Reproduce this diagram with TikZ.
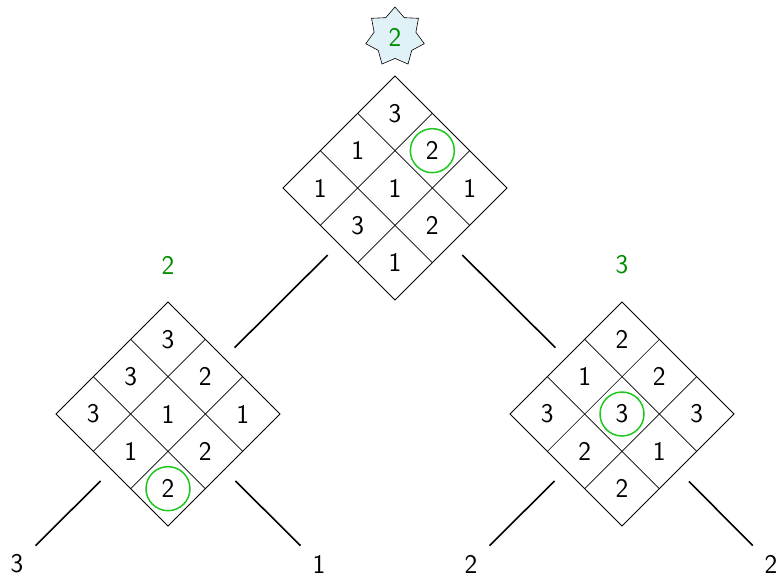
\documentclass[tikz,border=0pt]{standalone}
\usetikzlibrary{shapes.geometric,calc}
\definecolor{lblgreen}{RGB}{0,140,0}
\definecolor{circgreen}{RGB}{30,200,30}
\definecolor{starfill}{RGB}{224,242,248}
\newcommand{\boardgrid}[1]{%
  \foreach \t in {0.33333,0.66667} {
    \draw[gridline] ($(#1.west)!\t!(#1.south)$) -- ($(#1.north)!\t!(#1.east)$);
    \draw[gridline] ($(#1.west)!\t!(#1.north)$) -- ($(#1.south)!\t!(#1.east)$);
  }}
\newcommand{\boardvals}[2]{%
  \foreach \i/\j/\v in {#2} {
    \node[cellnum] (#1-\i\j) at ($(#1)+({(\i-\j)*37.333},{(\i+\j-2)*37.333})$) {\v};
  }}
\begin{document}
\begin{tikzpicture}[x=1pt,y=-1pt,
  every node/.style={font=\sffamily\fontsize{27}{32}\selectfont},
  board/.style={draw, diamond, minimum size=224pt, inner sep=0pt, outer sep=0pt, line width=0.9pt},
  gridline/.style={line width=0.6pt},
  cellnum/.style={inner sep=0pt},
  pick/.style={draw=circgreen, circle, line width=1.5pt, minimum size=44pt, inner sep=0pt},
  score/.style={text=lblgreen, inner sep=0pt},
  edge/.style={line width=1.6pt},
  leaf/.style={inner sep=0pt}]
\useasboundingbox (0,0) rectangle (781,578);

% root star
\node[star, star points=7, star point ratio=1.4, minimum size=60pt, draw, fill=starfill,
      inner sep=0pt, line width=0.6pt, text=lblgreen] (root) at (395,37) {2};

% boards
\node[board] (T) at (395,188) {};
\node[board] (L) at (168,414) {};
\node[board] (R) at (622,414) {};
\boardgrid{T}
\boardgrid{L}
\boardgrid{R}
\boardvals{T}{0/0/3,1/0/2,0/1/1,2/0/1,1/1/1,0/2/1,2/1/2,1/2/3,2/2/1}
\boardvals{L}{0/0/3,1/0/2,0/1/3,2/0/1,1/1/1,0/2/3,2/1/2,1/2/1,2/2/2}
\boardvals{R}{0/0/2,1/0/2,0/1/1,2/0/3,1/1/3,0/2/3,2/1/1,1/2/2,2/2/2}

% circled picks
\node[pick] (Tp) at (T-10) {};
\node[pick] (Lp) at (L-22) {};
\node[pick] (Rp) at (R-11) {};

% scores
\node[score] (Ls) at (168,265) {2};
\node[score] (Rs) at (622,265) {3};

% leaves
\node[leaf] (l1) at (17,564) {3};
\node[leaf] (l2) at (319,564) {1};
\node[leaf] (l3) at (471,564) {2};
\node[leaf] (l4) at (771,564) {2};

% connectors
\draw[edge, shorten <=95pt, shorten >=94pt] (T.center) -- (L.center);
\draw[edge, shorten <=95pt, shorten >=94pt] (T.center) -- (R.center);
\draw[edge, shorten <=95pt, shorten >=26pt] (L.center) -- (l1.center);
\draw[edge, shorten <=95pt, shorten >=26pt] (L.center) -- (l2.center);
\draw[edge, shorten <=95pt, shorten >=26pt] (R.center) -- (l3.center);
\draw[edge, shorten <=95pt, shorten >=26pt] (R.center) -- (l4.center);
\end{tikzpicture}
\end{document}
